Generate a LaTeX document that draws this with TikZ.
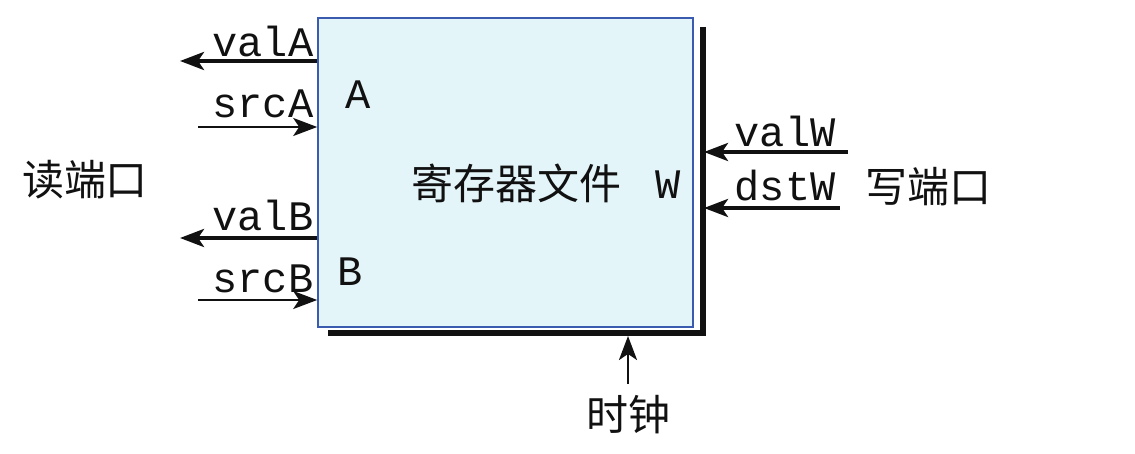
\documentclass[tikz,border=0pt]{standalone}
\usepackage{fontspec}
\setmonofont{Liberation Mono}
\newfontfamily\cjk{Noto Sans CJK SC}
\usetikzlibrary{arrows.meta, positioning, calc}
\definecolor{ink}{HTML}{111111}
\definecolor{edge}{HTML}{3A5BB0}
\definecolor{wash}{HTML}{E4F5FA}
\tikzset{
  >={Stealth[length=12pt, width=9pt, inset=3pt]},
  %
  regbox/.style={draw=edge, line width=0.8pt, fill=wash, inner sep=0pt,
                 minimum width=187.5pt, minimum height=154.5pt},
  shade/.style={draw=ink, line width=3pt},
  %
  bus/.style={draw=ink, line width=2pt, ->},
  wire/.style={draw=ink, line width=1.3pt, ->},
  %
  sig/.style={font=\fontsize{21}{22}\selectfont\ttfamily, text=ink, inner sep=0pt},
  han/.style={font=\fontsize{21}{24}\selectfont\cjk, text=ink, inner sep=0pt},
}

\begin{document}
\begin{tikzpicture}[x=0.5pt, y=-0.5pt]

  \useasboundingbox (0,0) rectangle (1135,454);

  % --- the register file -------------------------------------------------
  \draw[shade] (703,27) -- (703,333) -- (328,333);
  \node[regbox] (rf) at (505.5,172.5) {};
  \node[han] (title) at (516,183) {寄存器文件};

  % --- port letters ------------------------------------------------------
  \node[sig] (pa) at (358,95) {A};
  \node[sig] (pb) at (350,272) {B};
  \node[sig] (pw) at (668,185) {W};

  % --- read ports --------------------------------------------------------
  \coordinate (valAend) at (180,61);
  \coordinate (srcAbeg) at (198,127);
  \coordinate (valBend) at (180,238);
  \coordinate (srcBbeg) at (198,300);

  \draw[bus]  (rf.west |- valAend) -- (valAend);
  \draw[wire] (srcAbeg) -- (rf.west |- srcAbeg);
  \draw[bus]  (rf.west |- valBend) -- (valBend);
  \draw[wire] (srcBbeg) -- (rf.west |- srcBbeg);

  \node[sig] (valA) at (263,41) {valA};
  \node[sig] (srcA) at (263,104) {srcA};
  \node[sig] (valB) at (263,215) {valB};
  \node[sig] (srcB) at (263,279) {srcB};

  \node[han] (rdport) at (85,180) {读端口};

  % --- write port --------------------------------------------------------
  \coordinate (valWbeg) at (848,152);
  \coordinate (dstWbeg) at (840,208);
  \coordinate (wedge) at (704,0);

  \draw[bus] (valWbeg) -- (wedge |- valWbeg);
  \draw[bus] (dstWbeg) -- (wedge |- dstWbeg);

  \node[sig] (valW) at (785,131) {valW};
  \node[sig] (dstW) at (785,186) {dstW};

  \node[han] (wrport) at (928,187) {写端口};

  % --- clock -------------------------------------------------------------
  \node[han] (clk) at (628,415) {时钟};
  \coordinate (clkbot) at (628,384);
  \draw[wire] (clkbot) -- (628,336);

\end{tikzpicture}
\end{document}
